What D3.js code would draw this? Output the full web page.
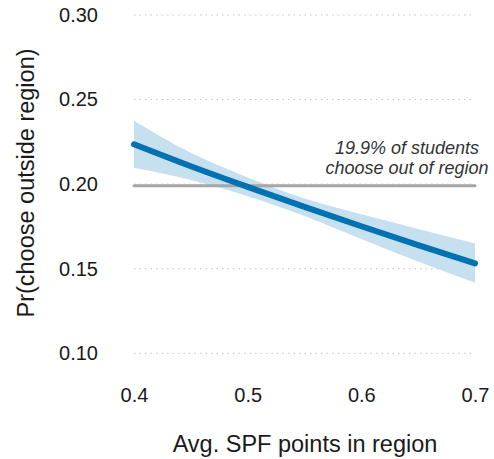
<!DOCTYPE html>
<html><head><meta charset="utf-8">
<script src="https://cdn.jsdelivr.net/npm/d3@7"></script>
<style>body{margin:0;background:#fff}svg{display:block}text{font-family:"Liberation Sans",Arial,sans-serif}</style>
</head><body>
<script>
const spf   = [0.40, 0.45, 0.50, 0.55, 0.60, 0.65, 0.70];
const prob  = [0.2236, 0.2106, 0.1984, 0.1866, 0.1751, 0.1639, 0.1532];
const lower = [0.2097, 0.2025, 0.1929, 0.1812, 0.1675, 0.1542, 0.1417];
const upper = [0.2375, 0.2185, 0.2040, 0.1915, 0.1822, 0.1735, 0.1650];
const baseRate = 0.199;
const xTicks = [0.4, 0.5, 0.6, 0.7];
const yTicks = [0.10, 0.15, 0.20, 0.25, 0.30];
const annot = ["19.9% of students", "choose out of region"];

const W = 494, H = 459;
const svg = d3.select("body").append("svg").attr("width", W).attr("height", H);
const x = d3.scaleLinear().domain([0.4, 0.7]).range([134, 475]);
const y = d3.scaleLinear().domain([0.10, 0.30]).range([353.3, 15]);

// grid
svg.append("g").selectAll("line").data(yTicks).join("line")
  .attr("x1", x(0.4)).attr("x2", x(0.7))
  .attr("y1", d => y(d)).attr("y2", d => y(d))
  .attr("stroke", "#c4c4c4").attr("stroke-width", 1).attr("stroke-dasharray", "1.5,4");

// y axis labels
const yAxis = d3.axisLeft(y).tickValues(yTicks).tickFormat(d3.format(".2f")).tickSize(0).tickPadding(0);
const gy = svg.append("g").attr("transform", "translate(98,0)").call(yAxis);
gy.select(".domain").remove();
gy.selectAll("text").attr("font-size", 20).attr("fill", "#1a1a1a").attr("font-family", "Liberation Sans, Arial, sans-serif");

// x axis labels
const xAxis = d3.axisBottom(x).tickValues(xTicks).tickFormat(d3.format(".1f")).tickSize(0).tickPadding(0);
const gx = svg.append("g").attr("transform", "translate(0,388)").call(xAxis);
gx.select(".domain").remove();
gx.selectAll("text").attr("font-size", 20).attr("fill", "#1a1a1a").attr("font-family", "Liberation Sans, Arial, sans-serif");

// band
const area = d3.area().x((d, i) => x(spf[i])).y0((d, i) => y(lower[i])).y1((d, i) => y(upper[i])).curve(d3.curveNatural);
svg.append("path").datum(spf).attr("d", area).attr("fill", "#c6e0ef");

// base rate line
svg.append("line").attr("x1", x(0.4)).attr("x2", x(0.7)).attr("y1", y(baseRate)).attr("y2", y(baseRate))
  .attr("stroke", "#a6a6a6").attr("stroke-width", 3).attr("stroke-linecap", "round");

// main line
const line = d3.line().x((d, i) => x(spf[i])).y((d, i) => y(prob[i])).curve(d3.curveNatural);
svg.append("path").datum(spf).attr("d", line).attr("fill", "none")
  .attr("stroke", "#0072b2").attr("stroke-width", 6).attr("stroke-linecap", "round");

// annotation
svg.append("g").selectAll("text").data(annot).join("text")
  .attr("x", 407).attr("y", (d, i) => 154 + i * 20)
  .attr("text-anchor", "middle").attr("font-style", "italic").attr("font-size", 18).attr("fill", "#333")
  .text(d => d);

// titles
svg.append("text").attr("x", 305).attr("y", 452).attr("text-anchor", "middle").attr("font-size", 23.5).attr("fill", "#1a1a1a")
  .text("Avg. SPF points in region");
svg.append("text").attr("transform", "translate(34,183) rotate(-90)").attr("text-anchor", "middle").attr("font-size", 23.5).attr("fill", "#1a1a1a")
  .text("Pr(choose outside region)");
</script>
</body></html>
